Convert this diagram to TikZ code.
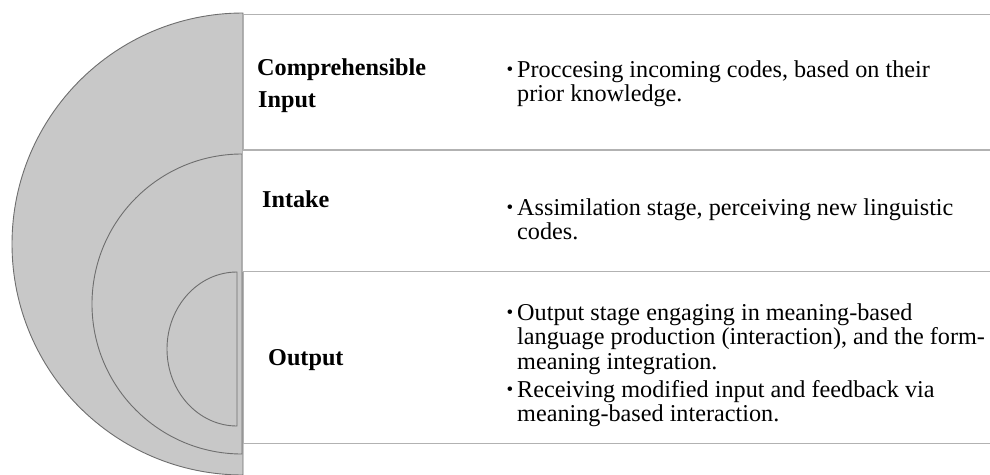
\documentclass[tikz,border=0pt]{standalone}
\usepackage{fontspec}
\setmainfont{Liberation Serif}
\usepackage{tikz}
\usetikzlibrary{positioning}
\definecolor{disk}{HTML}{C8C8C8}
\definecolor{arcl}{HTML}{6E6E6E}
\definecolor{rowl}{HTML}{B2B2B2}
\newcommand{\fs}{\fontsize{24.2}{24.5}\selectfont}
\newcommand{\lines}[1]{\begin{tabular}[t]{@{}l@{}}#1\end{tabular}}
\tikzset{
  half/.style  ={fill=disk, draw=arcl, line width=.9pt},
  rowbox/.style={fill=white, draw=rowl, line width=1.3pt, anchor=north west,
                 minimum width=770, inner sep=0pt},
  lab/.style   ={anchor=base west, inner sep=0pt, font=\fs\bfseries},
  txt/.style   ={anchor=base west, inner sep=0pt, font=\fs},
  dot/.style   ={anchor=base, inner sep=0pt, font=\fontsize{19}{19}\selectfont},
}
\begin{document}
\begin{tikzpicture}[x=1pt, y=-1pt]
  \useasboundingbox (0,0) rectangle (990,474);
  % nested half circles
  \draw[half] (243,13) arc[start angle=270, end angle=90, radius=231] -- cycle;
  \draw[half] (242,154) arc[start angle=270, end angle=90, radius=150] -- cycle;
  \draw[half] (237,272) arc[start angle=270, end angle=90, x radius=70, y radius=77] -- cycle;
  % rows
  \node[rowbox, minimum height=135] (row1) at (243,14) {};
  \node[rowbox, minimum height=121] (row2) at (242,150) {};
  \node[rowbox, minimum height=172] (row3) at (243,271) {};
  % labels
  \node[lab] (comp) at (257,75) {Comprehensible};
  \node[lab] (inp) at (258,107) {Input};
  \node[lab] (intk) at (262,207) {Intake};
  \node[lab] (outp) at (268,365) {Output};
  % bullets
  \node[dot] (d1) at (510,75) {\textbullet};
  \node[txt] (t1) at (517,77) {\lines{Proccesing incoming codes, based on their\\prior knowledge.}};
  \node[dot] (d2) at (510,213) {\textbullet};
  \node[txt] (t2) at (517,215) {\lines{Assimilation stage, perceiving new linguistic\\codes.}};
  \node[dot] (d3) at (510,318) {\textbullet};
  \node[txt] (t3) at (517,320) {\lines{Output stage engaging in meaning-based\\language production (interaction), and the form-\\meaning integration.}};
  \node[dot] (d4) at (510,395) {\textbullet};
  \node[txt] (t4) at (517,397) {\lines{Receiving modified input and feedback via\\meaning-based interaction.}};
\end{tikzpicture}
\end{document}
